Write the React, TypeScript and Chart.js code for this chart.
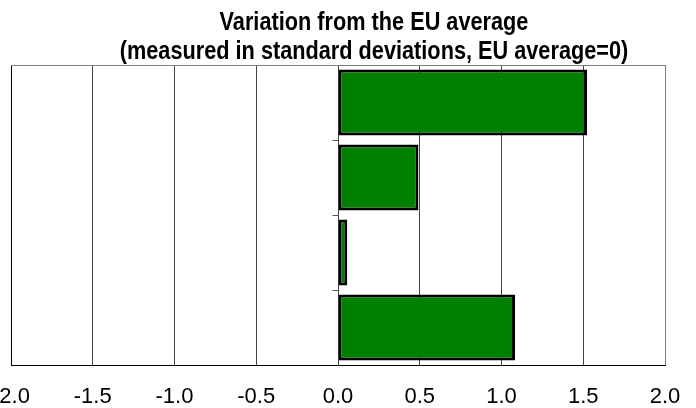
import React, { useEffect, useRef } from 'react';
import { Chart, registerables } from 'chart.js';

Chart.register(...registerables);

// Data
const categories = ['', '', '', ''];
const values = [1.523, 0.492, 0.057, 1.083];
const xMin = -2;
const xMax = 2;
const xStep = 0.5;
const titleLines = [
  'Variation from the EU average',
  '(measured in standard deviations, EU average=0)',
];

const PAGE_OFFSET = 40; // canvas starts 40px left of the page

const titlePlugin = {
  id: 'narrowTitle',
  afterDraw(chart: any) {
    const { ctx } = chart;
    const cx = 374 + PAGE_OFFSET;
    const baselines = [30, 59];
    const sx = 0.835;
    ctx.save();
    ctx.fillStyle = '#000';
    ctx.font = "bold 26px 'Liberation Sans', Arial, sans-serif";
    ctx.textAlign = 'center';
    ctx.textBaseline = 'alphabetic';
    titleLines.forEach((t, i) => {
      ctx.save();
      ctx.translate(cx, baselines[i]);
      ctx.scale(sx, 1);
      ctx.fillText(t, 0, 0);
      ctx.restore();
    });
    ctx.restore();
  },
};

const framePlugin = {
  id: 'frame',
  afterDatasetsDraw(chart: any) {
    const { ctx, chartArea: a, scales } = chart;
    const x0 = Math.round(scales.x.getPixelForValue(0)) + 0.5;
    const ys = scales.y;
    ctx.save();
    ctx.lineWidth = 1;
    ctx.strokeStyle = '#555';
    for (let i = 1; i < categories.length; i++) {
      const yy = Math.round((ys.getPixelForValue(i - 1) + ys.getPixelForValue(i)) / 2) + 0.5;
      ctx.beginPath();
      ctx.moveTo(x0 - 6, yy);
      ctx.lineTo(x0, yy);
      ctx.stroke();
    }
    ctx.strokeStyle = '#808080';
    ctx.beginPath();
    ctx.moveTo(a.left, Math.round(a.top) + 0.5);
    ctx.lineTo(a.right, Math.round(a.top) + 0.5);
    ctx.stroke();
    ctx.restore();
  },
};

export default function App() {
  const ref = useRef<HTMLCanvasElement>(null);
  useEffect(() => {
    if (!ref.current) return;
    const chart = new Chart(ref.current, {
      type: 'bar',
      data: {
        labels: categories,
        datasets: [
          {
            data: values,
            backgroundColor: '#008000',
            borderColor: '#000000',
            borderWidth: 3,
            borderSkipped: false,
            barPercentage: 0.88,
            categoryPercentage: 1,
          },
        ],
      },
      options: {
        indexAxis: 'y',
        animation: false,
        responsive: false,
        devicePixelRatio: 1,
        layout: { padding: { right: 31, left: 0, top: 65, bottom: 0 } },
        plugins: {
          legend: { display: false },
          tooltip: { enabled: false },
          title: { display: false },
        },
        scales: {
          x: {
            type: 'linear',
            min: xMin,
            max: xMax,
            ticks: {
              stepSize: xStep,
              autoSkip: false,
              maxRotation: 0,
              color: '#000',
              padding: 0,
              font: { family: "'Liberation Sans', Arial, sans-serif", size: 22 },
              callback: (v: any) => Number(v).toFixed(1),
            },
            grid: {
              drawTicks: true,
              tickLength: 19,
              tickColor: 'rgba(0,0,0,0)',
              color: (c: any) => (c.tick && c.tick.value === xMax ? '#808080' : '#444'),
              lineWidth: 1,
            },
            border: { display: true, color: '#000', width: 1 },
            afterFit: (s: any) => {
              s.height = 43;
            },
          },
          y: {
            type: 'category',
            ticks: { display: false },
            grid: { display: false, drawTicks: false },
            border: { display: true, color: '#000', width: 1 },
            afterFit: (s: any) => {
              s.width = 51;
            },
          },
        },
      },
      plugins: [framePlugin, titlePlugin],
    } as any);
    return () => chart.destroy();
  }, []);
  return (
    <div style={{ position: 'absolute', left: -PAGE_OFFSET, top: 0, width: 736, height: 408 }}>
      <canvas ref={ref} width={736} height={408} style={{ display: 'block' }} />
    </div>
  );
}
